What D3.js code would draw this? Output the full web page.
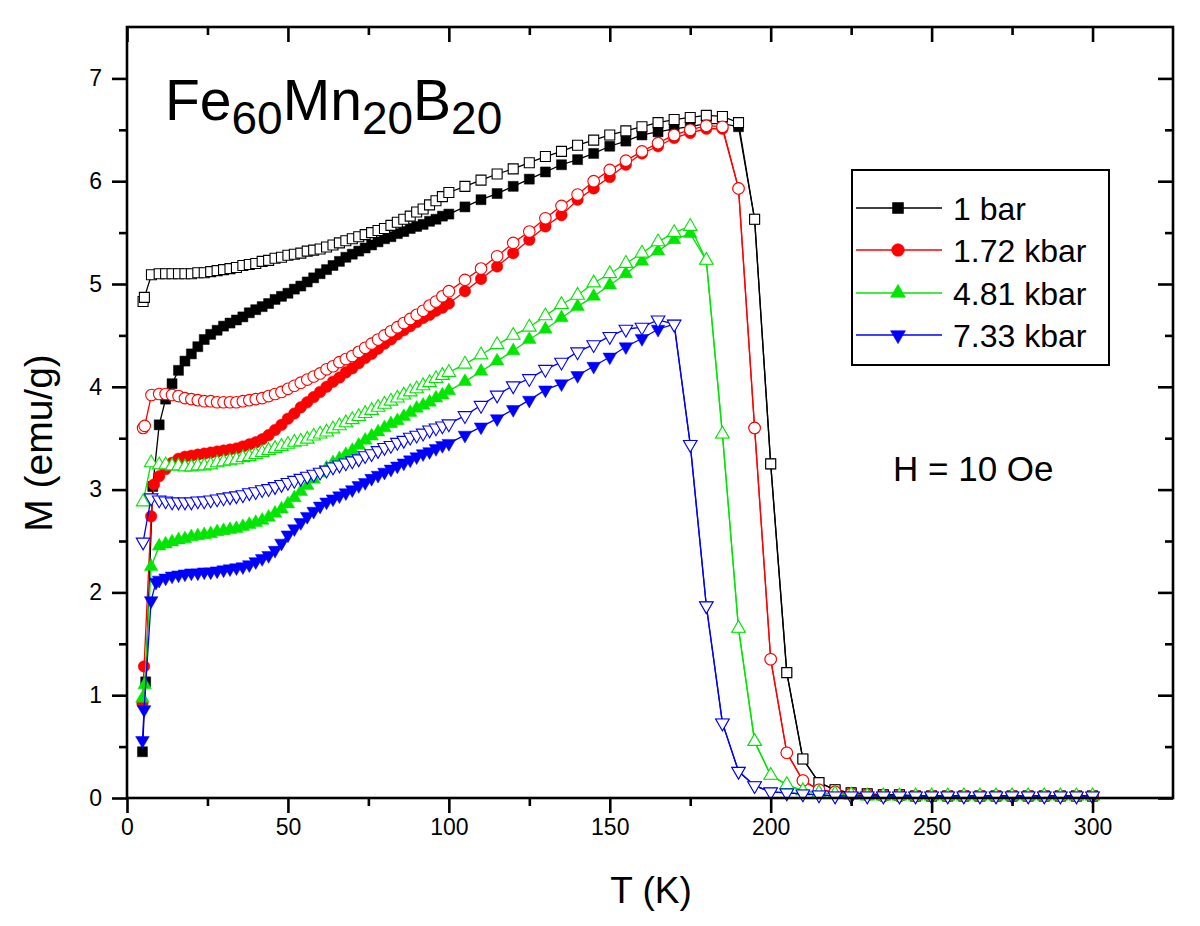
<!DOCTYPE html>
<html><head><meta charset="utf-8">
<script src="https://cdn.jsdelivr.net/npm/d3@7"></script>
<style>
html,body{margin:0;padding:0;background:#fff;}
text{font-family:"Liberation Sans",Arial,Helvetica,sans-serif;fill:#000;}
</style></head>
<body><svg id="chart" width="1200" height="926"></svg>
<script>
// ---------- DATA ----------
const seriesNames = ["1 bar", "1.72 kbar", "4.81 kbar", "7.33 kbar"];
const seriesColors = ["#000000", "#ff0000", "#00e600", "#0000ff"];
const seriesShapes = ["square", "circle", "triangleUp", "triangleDown"];

// shared temperature grids (K)
const tLow = [10,12,14,16,18,20,22,24,26,28,30,32,34,36,38,40,42,44,46,48,50,52,54,56,58,60,62,64,66,68,70,72,74,76,78,80,82,84,86,88,90,92,94,96,98,100];
const tHigh = [105,110,115,120,125,130,135,140,145,150,155,160,165,170,175,180,185,190,195,200,205,210,215,220,225,230,235,240,245,250,255,260,265,270,275,280,285,290,295,300];

// ---- 1 bar ----
const zfc1StartT = [4.8, 5.8, 8];
const zfc1StartM = [0.45, 1.13, 3.03];
const zfc1LowM = [3.63,3.88,4.03,4.16,4.25,4.32,4.39,4.46,4.51,4.55,4.59,4.62,4.65,4.68,4.72,4.75,4.78,4.81,4.85,4.88,4.91,4.95,4.98,5.02,5.06,5.10,5.14,5.18,5.22,5.26,5.29,5.32,5.35,5.38,5.41,5.44,5.46,5.49,5.51,5.54,5.56,5.58,5.61,5.63,5.66,5.68];
const zfc1HighM = [5.75,5.82,5.88,5.95,6.02,6.09,6.16,6.21,6.27,6.34,6.39,6.45,6.48,6.51,6.53,6.56,6.56,6.53,5.63,3.25,1.22,0.38,0.15,0.08,0.05,0.04,0.03,0.03,0.02,0.02,0.02,0.02,0.02,0.02,0.02,0.02,0.02,0.02,0.02,0.02];
const fc1StartT = [5, 5.4, 7.6];
const fc1StartM = [4.83, 4.87, 5.09];
const fc1LowM = [5.10,5.10,5.10,5.10,5.10,5.10,5.11,5.11,5.12,5.13,5.14,5.15,5.16,5.18,5.19,5.20,5.22,5.23,5.25,5.26,5.28,5.29,5.30,5.32,5.33,5.34,5.36,5.38,5.40,5.42,5.44,5.46,5.48,5.50,5.52,5.54,5.57,5.60,5.63,5.66,5.70,5.73,5.77,5.81,5.85,5.89];
const fc1HighM = [5.95,6.01,6.07,6.12,6.18,6.24,6.29,6.35,6.40,6.45,6.49,6.53,6.57,6.60,6.62,6.64,6.63,6.57,5.63,3.25,1.22,0.38,0.15,0.08,0.05,0.04,0.03,0.03,0.02,0.02,0.02,0.02,0.02,0.02,0.02,0.02,0.02,0.02,0.02,0.02];

// ---- 1.72 kbar ----
const zfc2StartT = [4.8, 5.3, 7.5, 8.4];
const zfc2StartM = [0.92, 1.28, 2.74, 3.05];
const zfc2LowM = [3.13,3.20,3.26,3.30,3.32,3.33,3.34,3.35,3.36,3.37,3.38,3.39,3.40,3.42,3.44,3.46,3.49,3.53,3.58,3.63,3.69,3.74,3.80,3.85,3.90,3.95,4.00,4.05,4.09,4.14,4.18,4.23,4.28,4.32,4.37,4.42,4.46,4.51,4.55,4.59,4.63,4.67,4.70,4.74,4.77,4.81];
const zfc2HighM = [4.93,5.05,5.17,5.30,5.43,5.56,5.67,5.82,5.93,6.04,6.16,6.27,6.34,6.42,6.47,6.51,6.51,5.93,3.60,1.35,0.44,0.17,0.08,0.06,0.04,0.03,0.02,0.02,0.02,0.02,0.02,0.02,0.02,0.02,0.02,0.02,0.02,0.02,0.02,0.02];
const fc2StartT = [5, 5.5, 7.6];
const fc2StartM = [3.60, 3.62, 3.92];
const fc2LowM = [3.93,3.93,3.92,3.91,3.89,3.88,3.87,3.86,3.86,3.85,3.85,3.85,3.85,3.86,3.87,3.88,3.89,3.91,3.93,3.95,3.98,4.01,4.04,4.07,4.10,4.13,4.17,4.20,4.24,4.27,4.30,4.34,4.38,4.42,4.46,4.50,4.54,4.58,4.62,4.66,4.70,4.74,4.79,4.83,4.88,4.93];
const fc2HighM = [5.04,5.15,5.27,5.40,5.51,5.64,5.76,5.87,6.00,6.11,6.20,6.29,6.37,6.45,6.50,6.54,6.53,5.93,3.60,1.35,0.44,0.17,0.08,0.06,0.04,0.03,0.02,0.02,0.02,0.02,0.02,0.02,0.02,0.02,0.02,0.02,0.02,0.02,0.02,0.02];

// ---- 4.81 kbar ----
const zfc3StartT = [4.8, 5.5, 7.5];
const zfc3StartM = [0.97, 1.10, 2.25];
const zfc3LowM = [2.45,2.47,2.49,2.51,2.52,2.54,2.55,2.56,2.57,2.59,2.60,2.61,2.62,2.64,2.66,2.68,2.70,2.73,2.77,2.81,2.86,2.92,2.98,3.04,3.10,3.16,3.21,3.26,3.30,3.34,3.38,3.43,3.48,3.52,3.56,3.60,3.64,3.67,3.71,3.75,3.79,3.82,3.85,3.89,3.92,3.96];
const zfc3HighM = [4.05,4.15,4.25,4.35,4.46,4.56,4.67,4.78,4.88,4.99,5.10,5.22,5.32,5.43,5.49,5.23,3.54,1.65,0.55,0.22,0.13,0.07,0.05,0.04,0.03,0.02,0.02,0.02,0.02,0.02,0.02,0.02,0.02,0.02,0.02,0.02,0.02,0.02,0.02,0.02];
const fc3StartT = [5, 7.5];
const fc3StartM = [2.88, 3.26];
const fc3LowM = [3.24,3.24,3.23,3.23,3.22,3.22,3.23,3.23,3.24,3.26,3.27,3.28,3.29,3.31,3.32,3.34,3.36,3.38,3.40,3.42,3.44,3.46,3.47,3.49,3.52,3.54,3.56,3.59,3.62,3.65,3.68,3.71,3.74,3.77,3.80,3.83,3.86,3.89,3.92,3.95,3.98,4.01,4.04,4.08,4.11,4.14];
const fc3HighM = [4.22,4.31,4.41,4.50,4.58,4.69,4.80,4.89,5.01,5.10,5.20,5.30,5.41,5.50,5.56,5.23,3.54,1.65,0.55,0.22,0.13,0.07,0.05,0.04,0.03,0.02,0.02,0.02,0.02,0.02,0.02,0.02,0.02,0.02,0.02,0.02,0.02,0.02,0.02,0.02];

// ---- 7.33 kbar ----
const zfc4StartT = [4.8, 5.3, 7.5, 9];
const zfc4StartM = [0.56, 0.86, 1.92, 2.10];
const zfc4LowM = [2.12,2.14,2.16,2.17,2.18,2.19,2.19,2.20,2.20,2.21,2.22,2.23,2.24,2.25,2.27,2.30,2.33,2.36,2.41,2.48,2.56,2.62,2.68,2.74,2.79,2.84,2.88,2.91,2.94,2.97,3.00,3.04,3.07,3.11,3.14,3.17,3.20,3.23,3.26,3.29,3.32,3.35,3.37,3.40,3.43,3.45];
const zfc4HighM = [3.53,3.61,3.69,3.78,3.87,3.97,4.03,4.11,4.20,4.29,4.39,4.47,4.56,4.61,3.44,1.87,0.73,0.26,0.12,0.06,0.05,0.04,0.03,0.02,0.02,0.02,0.02,0.02,0.02,0.02,0.02,0.02,0.02,0.02,0.02,0.02,0.02,0.02,0.02,0.02];
const fc4StartT = [5, 7.5];
const fc4StartM = [2.49, 2.92];
const fc4LowM = [2.90,2.89,2.88,2.88,2.88,2.88,2.89,2.89,2.90,2.91,2.92,2.93,2.94,2.95,2.97,2.98,3.00,3.01,3.03,3.05,3.07,3.09,3.11,3.13,3.15,3.17,3.19,3.22,3.24,3.26,3.28,3.30,3.33,3.35,3.38,3.41,3.43,3.46,3.48,3.51,3.53,3.55,3.58,3.60,3.62,3.64];
const fc4HighM = [3.72,3.82,3.92,4.01,4.08,4.17,4.24,4.34,4.41,4.49,4.56,4.58,4.65,4.61,3.44,1.87,0.73,0.26,0.12,0.06,0.05,0.04,0.03,0.02,0.02,0.02,0.02,0.02,0.02,0.02,0.02,0.02,0.02,0.02,0.02,0.02,0.02,0.02,0.02,0.02];

// axis ticks
const xMajorTicks = [0,50,100,150,200,250,300];
const xMinorTicks = [25,75,125,175,225,275];
const yMajorTicks = [0,1,2,3,4,5,6,7];
const yMinorTicks = [0.5,1.5,2.5,3.5,4.5,5.5,6.5];

// ---------- BUILD ----------
function branch(startT, startM, lowM, highM) {
  const pts = [];
  startT.forEach((t, i) => pts.push([t, startM[i]]));
  tLow.forEach((t, i) => pts.push([t, lowM[i]]));
  tHigh.forEach((t, i) => pts.push([t, highM[i]]));
  return pts;
}
const series = [
  {zfc: branch(zfc1StartT, zfc1StartM, zfc1LowM, zfc1HighM), fc: branch(fc1StartT, fc1StartM, fc1LowM, fc1HighM)},
  {zfc: branch(zfc2StartT, zfc2StartM, zfc2LowM, zfc2HighM), fc: branch(fc2StartT, fc2StartM, fc2LowM, fc2HighM)},
  {zfc: branch(zfc3StartT, zfc3StartM, zfc3LowM, zfc3HighM), fc: branch(fc3StartT, fc3StartM, fc3LowM, fc3HighM)},
  {zfc: branch(zfc4StartT, zfc4StartM, zfc4LowM, zfc4HighM), fc: branch(fc4StartT, fc4StartM, fc4LowM, fc4HighM)}
];
series.forEach((s, i) => { s.name = seriesNames[i]; s.color = seriesColors[i]; s.shape = seriesShapes[i]; });

// ---------- DRAW ----------
const svg = d3.select("#chart");
const L = 127, R = 1173, T = 27, B = 798;
const x = d3.scaleLinear().domain([0, 325]).range([L, R]);
const y = d3.scaleLinear().domain([0, 7.5]).range([B, T]);

const symbolMap = {
  square: {type: d3.symbolSquare, size: 100, rot: 0},
  circle: {type: d3.symbolCircle, size: 105, rot: 0},
  triangleUp: {type: d3.symbolTriangle, size: 80, rot: 0},
  triangleDown: {type: d3.symbolTriangle, size: 80, rot: 180}
};
function symPath(shape) { const s = symbolMap[shape]; return d3.symbol().type(s.type).size(s.size)(); }

const plot = svg.append("g");
const line = d3.line().x(d => x(d[0])).y(d => y(d[1]));

series.forEach(s => {
  [["zfc", true], ["fc", false]].forEach(([key, filled]) => {
    const data = s[key];
    plot.append("path").datum(data).attr("d", line)
      .attr("fill", "none").attr("stroke", s.color).attr("stroke-width", 1.3);
    plot.append("g").selectAll("path").data(data).join("path")
      .attr("d", symPath(s.shape))
      .attr("transform", d => `translate(${x(d[0])},${y(d[1])}) rotate(${symbolMap[s.shape].rot})`)
      .attr("fill", filled ? s.color : "#fff")
      .attr("stroke", s.color).attr("stroke-width", filled ? 0.5 : 1.1);
  });
});

// axes
const axW = 2.6;
function styleAxis(g) {
  g.select(".domain").remove();
  g.selectAll(".tick line").attr("stroke", "#000").attr("stroke-width", axW);
}
svg.append("g").attr("transform", `translate(0,${B})`)
  .call(d3.axisBottom(x).tickValues(xMajorTicks).tickSize(15).tickPadding(6).tickFormat(d3.format("d")))
  .call(styleAxis)
  .call(g => g.selectAll("text").attr("font-size", 23).attr("font-family", "Liberation Sans, Arial, sans-serif"));
svg.append("g").attr("transform", `translate(0,${B})`)
  .call(d3.axisBottom(x).tickValues(xMinorTicks).tickSize(8).tickFormat(""))
  .call(styleAxis);
svg.append("g").attr("transform", `translate(0,${T})`)
  .call(d3.axisTop(x).tickValues(xMajorTicks).tickSize(-15).tickFormat(""))
  .call(styleAxis);
svg.append("g").attr("transform", `translate(0,${T})`)
  .call(d3.axisTop(x).tickValues(xMinorTicks).tickSize(-8).tickFormat(""))
  .call(styleAxis);
svg.append("g").attr("transform", `translate(${L},0)`)
  .call(d3.axisLeft(y).tickValues(yMajorTicks).tickSize(15).tickPadding(10).tickFormat(d3.format("d")))
  .call(styleAxis)
  .call(g => g.selectAll("text").attr("font-size", 23).attr("font-family", "Liberation Sans, Arial, sans-serif"));
svg.append("g").attr("transform", `translate(${L},0)`)
  .call(d3.axisLeft(y).tickValues(yMinorTicks).tickSize(8).tickFormat(""))
  .call(styleAxis);
svg.append("g").attr("transform", `translate(${R},0)`)
  .call(d3.axisRight(y).tickValues(yMajorTicks).tickSize(-15).tickFormat(""))
  .call(styleAxis);
svg.append("g").attr("transform", `translate(${R},0)`)
  .call(d3.axisRight(y).tickValues(yMinorTicks).tickSize(-8).tickFormat(""))
  .call(styleAxis);

svg.append("rect").attr("x", L).attr("y", T).attr("width", R - L).attr("height", B - T)
  .attr("fill", "none").attr("stroke", "#000").attr("stroke-width", axW);

// axis titles
svg.append("text").attr("x", 651).attr("y", 903).attr("text-anchor", "middle")
  .attr("font-size", 37).text("T (K)");
svg.append("text").attr("transform", `translate(52,443) rotate(-90)`)
  .attr("text-anchor", "middle").attr("font-size", 39).text("M (emu/g)");

// title
const title = svg.append("text").attr("x", 165).attr("y", 120).attr("font-size", 57);
title.append("tspan").text("Fe");
title.append("tspan").attr("font-size", 46).attr("dy", 14).text("60");
title.append("tspan").attr("dy", -14).text("Mn");
title.append("tspan").attr("font-size", 46).attr("dy", 14).text("20");
title.append("tspan").attr("dy", -14).text("B");
title.append("tspan").attr("font-size", 46).attr("dy", 14).text("20");

// H label
svg.append("text").attr("x", 893).attr("y", 481).attr("font-size", 35).text("H = 10 Oe");

// legend
const lg = svg.append("g");
lg.append("rect").attr("x", 852).attr("y", 170).attr("width", 257).attr("height", 195)
  .attr("fill", "#fff").attr("stroke", "#000").attr("stroke-width", 2);
const rowsY = [208, 250, 293, 335];
series.forEach((s, i) => {
  const yy = rowsY[i];
  lg.append("line").attr("x1", 856).attr("x2", 942).attr("y1", yy).attr("y2", yy)
    .attr("stroke", s.color).attr("stroke-width", 1.5);
  lg.append("path").attr("d", symPath(s.shape))
    .attr("transform", `translate(898,${yy}) rotate(${symbolMap[s.shape].rot}) scale(1.1)`)
    .attr("fill", s.color).attr("stroke", s.color).attr("stroke-width", 0.5);
  lg.append("text").attr("x", 953).attr("y", yy + 12).attr("font-size", 32).text(s.name);
});
</script></body></html>
